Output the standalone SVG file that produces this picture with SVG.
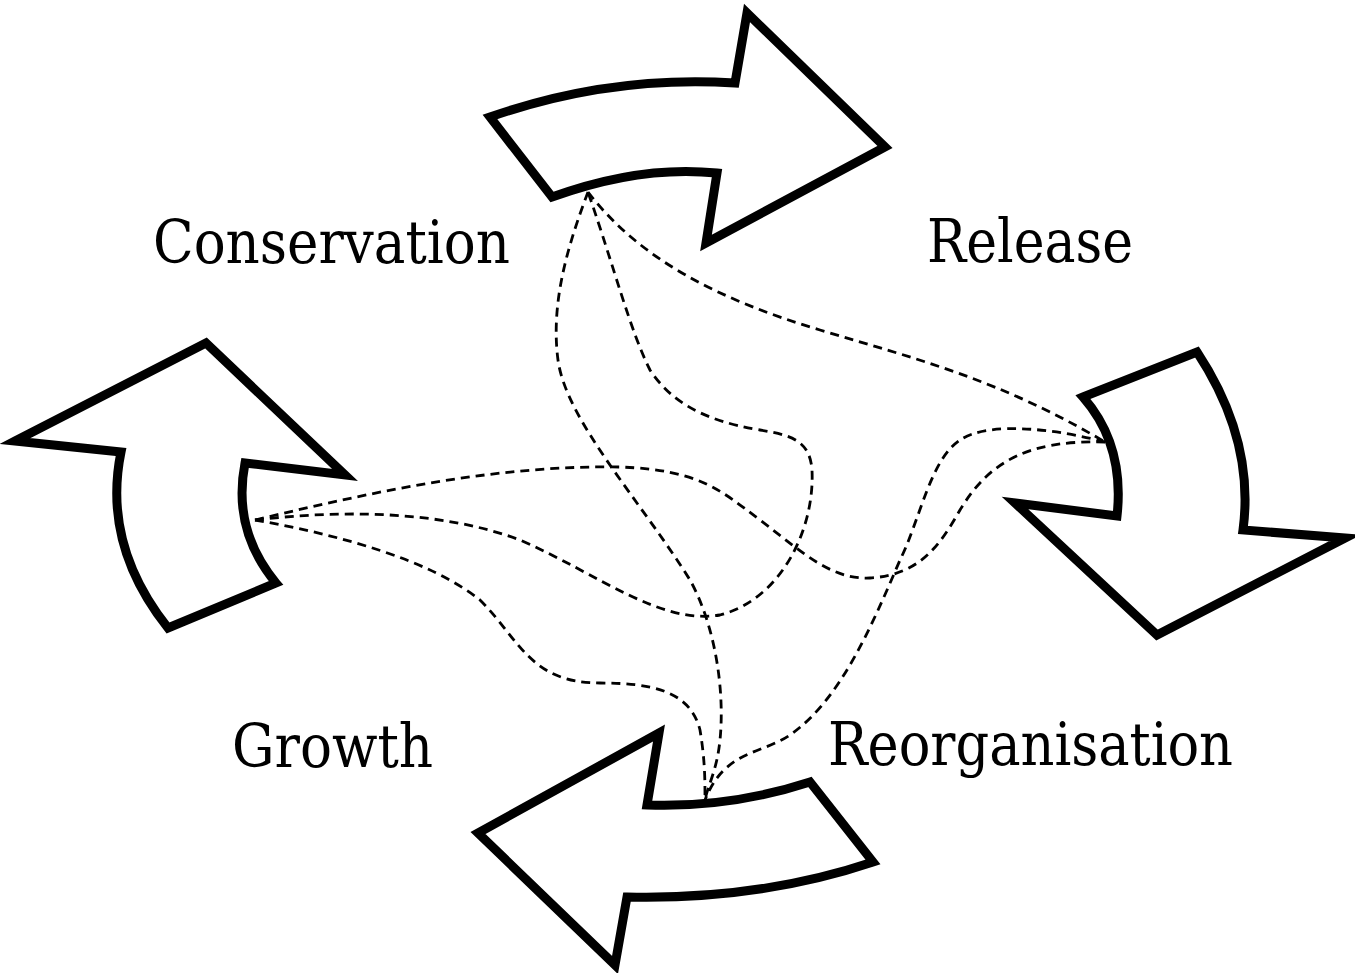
<svg xmlns="http://www.w3.org/2000/svg" width="1355" height="973" viewBox="0 0 1355 973">
<style>
.arrow{fill:#fff;stroke:#000;stroke-width:9;stroke-linejoin:miter;stroke-miterlimit:10}
.link{fill:none;stroke:#000;stroke-width:2.8;stroke-dasharray:9 6}
.label{font-family:'DejaVu Serif Condensed','DejaVu Serif',serif;font-stretch:condensed;font-size:59px;fill:#000}
</style>
<rect width="1355" height="973" fill="#fff"/>
<g id="connectors">
<path class="link" d="M588,192 C570,240 550,300 558,360 C566,420 640,500 690,580 C715,625 725,690 720,740 C717,770 708,785 705,800"/>
<path class="link" d="M255,520 C340,510 440,510 520,540 C600,575 660,625 720,615 C780,600 815,530 812,470 C810,440 790,435 760,430 C700,420 670,400 650,370 C630,330 615,270 588,192"/>
<path class="link" d="M588,192 C640,260 720,300 820,330 C920,360 1000,380 1105,442"/>
<path class="link" d="M255,520 C380,490 500,465 620,467 C700,470 720,490 760,520 C800,550 830,580 870,578 C920,575 940,545 960,510 C990,460 1030,440 1105,442"/>
<path class="link" d="M1105,442 C1060,430 990,420 960,440 C930,460 920,520 900,560 C870,630 840,700 790,735 C760,755 725,750 705,800"/>
<path class="link" d="M255,520 C340,535 430,560 480,600 C520,640 530,683 600,683 C650,683 690,690 700,730 C705,760 705,780 705,800"/>
</g>
<g id="conservation">
<path class="arrow" d="M490,117 Q610,75 735,83 L747,13 L885,147 L706,243 L717,173 Q640,165 552,197 Z"/>
<text class="label" x="153" y="263" textLength="357" lengthAdjust="spacingAndGlyphs">Conservation</text>
</g>
<g id="release">
<path class="arrow" d="M1083,397 L1197,352 Q1255,440 1243,530 L1345,538 L1157,635 L1015,503 L1117,516 Q1125,445 1083,397 Z"/>
<text class="label" x="927" y="262" textLength="206" lengthAdjust="spacingAndGlyphs">Release</text>
</g>
<g id="reorganisation">
<path class="arrow" d="M659,733 L647,805 Q730,808 810,782 L873,862 Q760,900 627,897 L615,965 L478,833 Z"/>
<text class="label" x="828" y="765" textLength="405" lengthAdjust="spacingAndGlyphs">Reorganisation</text>
</g>
<g id="growth">
<path class="arrow" d="M15,441 L206,343 L345,475 L245,463 Q232,530 276,583 L168,628 Q102,545 121,452 Z"/>
<text class="label" x="232" y="767" textLength="201" lengthAdjust="spacingAndGlyphs">Growth</text>
</g>
</svg>
